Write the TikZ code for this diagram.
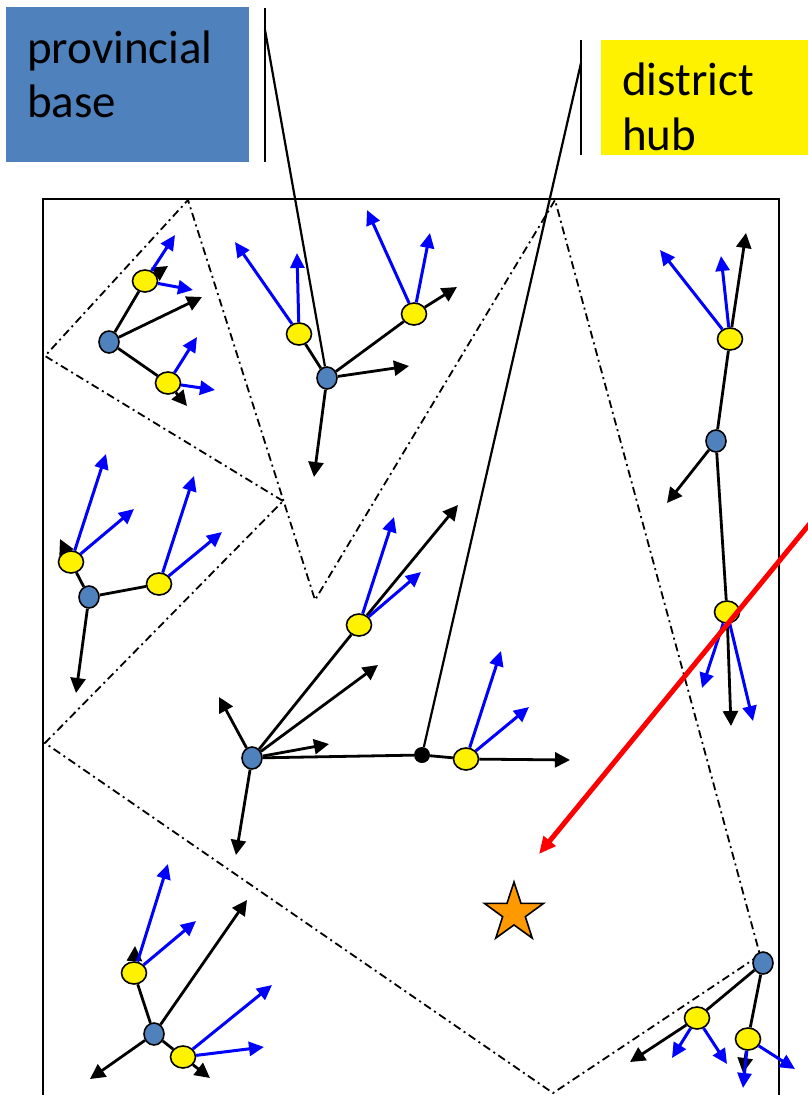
\documentclass[tikz,border=0pt]{standalone}
\usepackage{fontspec}
\setmainfont{Carlito}
\usetikzlibrary{arrows.meta,shapes.geometric}
\definecolor{nodeblue}{RGB}{79,129,189}
\definecolor{staror}{RGB}{255,153,0}
\definecolor{pureblue}{RGB}{0,0,255}
\definecolor{purered}{RGB}{255,0,0}
\begin{document}
\begin{tikzpicture}[x=1pt,y=-1pt,
 bnode/.style={ellipse,draw,line width=1.6pt,fill=nodeblue,minimum width=20pt,minimum height=22pt,inner sep=0pt},
 ynode/.style={ellipse,draw,line width=1.6pt,fill=yellow,minimum width=25pt,minimum height=22pt,inner sep=0pt},
 dnode/.style={circle,fill=black,minimum size=16pt,inner sep=0pt},
 link/.style={line width=2.8pt},
 barr/.style={line width=2.8pt,-{Triangle[length=15pt,width=15pt]}},
 uarr/.style={line width=3pt,pureblue,-{Triangle[length=15pt,width=14pt]}},
 redarr/.style={line width=5pt,purered,-{Triangle[length=17pt,width=15pt]}},
 zone/.style={line width=1.8pt,dash pattern=on 8pt off 4pt on 2pt off 4pt},
 lbl/.style={anchor=base west,inner sep=0pt,font=\fontsize{47}{55}\selectfont},
 bar/.style={line width=2.2pt}
]
\useasboundingbox (0,0) rectangle (808,1095);

% labels
\node[fill=nodeblue,minimum width=243pt,minimum height=155pt,anchor=north west,inner sep=0pt] (pbox) at (6,7) {};
\node[lbl] (ptxt1) at (27,63) {provincial};
\node[lbl] (ptxt2) at (27,117) {base};
\node[fill=yellow,minimum width=210pt,minimum height=115pt,anchor=north west,inner sep=0pt] (hbox) at (601,40) {};
\node[lbl] (htxt1) at (622,95) {district};
\node[lbl] (htxt2) at (622,150) {hub};

\coordinate (pbarA) at (265,8);
\coordinate (pbarB) at (265,162);
\coordinate (hbarA) at (581,40);
\coordinate (hbarB) at (581,155);
\draw[bar] (pbarA) -- (pbarB);
\draw[bar] (hbarA) -- (hbarB);

% zones
\draw[zone] (283,501) -- (45,356) -- (188,200) -- (315,600) -- (555,200) -- (760,955) -- (553,1093) -- (45,743) -- cycle;

% frame
\draw[line width=1.8pt] (43,1100) -- (43,199) -- (779,199) -- (779,1100);

% nodes
\node[bnode] (a0) at (109,342) {};
\node[ynode] (a1) at (145,281) {};
\node[ynode] (a2) at (168,383) {};
\node[bnode] (b0) at (327,378) {};
\node[ynode] (b1) at (299,334) {};
\node[ynode] (b2) at (414,314) {};
\node[ynode] (c1) at (730,339) {};
\node[bnode] (c0) at (716,441) {};
\node[ynode] (c2) at (727,612) {};
\node[ynode] (d1) at (71,562) {};
\node[bnode] (d0) at (89,597) {};
\node[ynode] (d2) at (159,584) {};
\node[bnode] (e0) at (252,758) {};
\node[ynode] (e1) at (359,625) {};
\node[dnode] (dot) at (422,755) {};
\node[ynode] (e2) at (466,759) {};
\node[bnode] (f0) at (154,1034) {};
\node[ynode] (f1) at (134,973) {};
\node[ynode] (f2) at (183,1057) {};
\node[bnode] (g0) at (763,963) {};
\node[ynode] (g1) at (697,1018) {};
\node[ynode] (g2) at (748,1039) {};
\node[star,star points=5,star point ratio=2.6,draw,line width=1.6pt,fill=staror,minimum size=62pt,inner sep=0pt] (star) at (514,913) {};

% tips
\coordinate (a0t) at (202,297);
\coordinate (a1t) at (168,266);
\coordinate (a1u) at (175,235);
\coordinate (a1v) at (193,290);
\coordinate (a2t) at (187,406);
\coordinate (a2u) at (197,337);
\coordinate (a2v) at (215,390);
\coordinate (b0t) at (409,366);
\coordinate (b0s) at (314,477);
\coordinate (b2t) at (457,287);
\coordinate (b1u) at (235,242);
\coordinate (b1v) at (297,253);
\coordinate (b2u) at (367,210);
\coordinate (b2v) at (430,233);
\coordinate (c1t) at (746,233);
\coordinate (c1u) at (660,250);
\coordinate (c1v) at (721,256);
\coordinate (c0t) at (667,503);
\coordinate (c2t) at (731,726);
\coordinate (c2u) at (702,688);
\coordinate (c2v) at (753,721);
\coordinate (d1t) at (60,539);
\coordinate (d0t) at (76,693);
\coordinate (d1u) at (106,454);
\coordinate (d1v) at (134,509);
\coordinate (d2u) at (194,476);
\coordinate (d2v) at (222,532);
\coordinate (e1t) at (458,505);
\coordinate (e1u) at (394,517);
\coordinate (e1v) at (421,572);
\coordinate (e0t) at (378,665);
\coordinate (e0s) at (329,744);
\coordinate (e0r) at (219,697);
\coordinate (e0d) at (236,855);
\coordinate (e2t) at (570,760);
\coordinate (e2u) at (501,651);
\coordinate (e2v) at (529,707);
\coordinate (f1t) at (135,946);
\coordinate (f1u) at (168,864);
\coordinate (f1v) at (196,921);
\coordinate (f0t) at (247,900);
\coordinate (f0s) at (90,1079);
\coordinate (f2t) at (210,1078);
\coordinate (f2u) at (272,985);
\coordinate (f2v) at (264,1047);
\coordinate (g1t) at (630,1062);
\coordinate (g2t) at (743,1073);
\coordinate (g1u) at (672,1058);
\coordinate (g1v) at (727,1064);
\coordinate (g2u) at (743,1088);
\coordinate (g2v) at (795,1069);
\coordinate (pcall) at (265,30);
\coordinate (hcall) at (581,63);
\coordinate (rs) at (812,521);
\coordinate (rt) at (539,854);

% callouts
\draw[bar] (pcall) -- (b0);
\draw[bar] (hcall) -- (dot);

% cluster A
\draw[link] (a0) -- (a1);
\draw[link] (a0) -- (a2);
\draw[barr] (a0) -- (a0t);
\draw[barr] (a1) -- (a1t);
\draw[barr] (a2) -- (a2t);
\draw[uarr] (a1) -- (a1u);
\draw[uarr] (a1) -- (a1v);
\draw[uarr] (a2) -- (a2u);
\draw[uarr] (a2) -- (a2v);
% cluster B
\draw[link] (b0) -- (b1);
\draw[link] (b0) -- (b2);
\draw[barr] (b0) -- (b0t);
\draw[barr] (b0) -- (b0s);
\draw[barr] (b2) -- (b2t);
\draw[uarr] (b1) -- (b1u);
\draw[uarr] (b1) -- (b1v);
\draw[uarr] (b2) -- (b2u);
\draw[uarr] (b2) -- (b2v);
% cluster C
\draw[link] (c1) -- (c0);
\draw[link] (c0) -- (c2);
\draw[barr] (c1) -- (c1t);
\draw[barr] (c0) -- (c0t);
\draw[barr] (c2) -- (c2t);
\draw[uarr] (c1) -- (c1u);
\draw[uarr] (c1) -- (c1v);
\draw[uarr] (c2) -- (c2u);
\draw[uarr] (c2) -- (c2v);
% cluster D
\draw[link] (d0) -- (d1);
\draw[link] (d0) -- (d2);
\draw[barr] (d1) -- (d1t);
\draw[barr] (d0) -- (d0t);
\draw[uarr] (d1) -- (d1u);
\draw[uarr] (d1) -- (d1v);
\draw[uarr] (d2) -- (d2u);
\draw[uarr] (d2) -- (d2v);
% cluster E
\draw[link] (e0) -- (e1);
\draw[link] (e0) -- (dot);
\draw[link] (dot) -- (e2);
\draw[barr] (e1) -- (e1t);
\draw[barr] (e0) -- (e0t);
\draw[barr] (e0) -- (e0s);
\draw[barr] (e0) -- (e0r);
\draw[barr] (e0) -- (e0d);
\draw[barr] (e2) -- (e2t);
\draw[uarr] (e1) -- (e1u);
\draw[uarr] (e1) -- (e1v);
\draw[uarr] (e2) -- (e2u);
\draw[uarr] (e2) -- (e2v);
% cluster F
\draw[link] (f0) -- (f1);
\draw[link] (f0) -- (f2);
\draw[barr] (f1) -- (f1t);
\draw[barr] (f0) -- (f0t);
\draw[barr] (f0) -- (f0s);
\draw[barr] (f2) -- (f2t);
\draw[uarr] (f1) -- (f1u);
\draw[uarr] (f1) -- (f1v);
\draw[uarr] (f2) -- (f2u);
\draw[uarr] (f2) -- (f2v);
% cluster G
\draw[link] (g0) -- (g1);
\draw[link] (g0) -- (g2);
\draw[barr] (g1) -- (g1t);
\draw[barr] (g2) -- (g2t);
\draw[uarr] (g1) -- (g1u);
\draw[uarr] (g1) -- (g1v);
\draw[uarr] (g2) -- (g2u);
\draw[uarr] (g2) -- (g2v);

% red pointer
\draw[redarr] (rs) -- (rt);
\end{tikzpicture}
\end{document}
